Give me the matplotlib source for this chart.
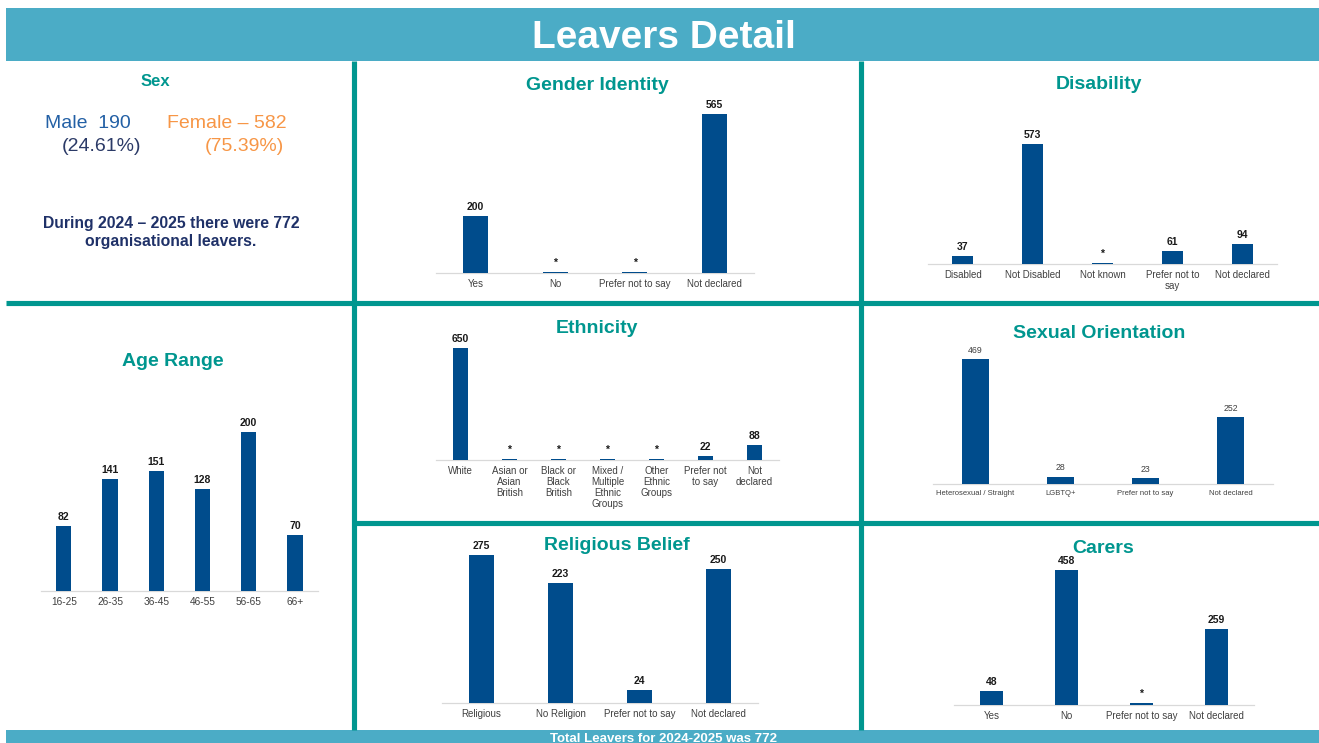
"""Leavers detail dashboard: one page of small bar charts, redrawn in matplotlib."""

import matplotlib
matplotlib.use("Agg")

import matplotlib.pyplot as plt
from matplotlib.patches import Rectangle

W, H = 1319, 743

plt.rcParams["font.family"] = ["Liberation Sans", "DejaVu Sans"]

HEADER_COLOUR = "#4BACC6"
TEAL = "#00968F"
BAR_COLOUR = "#004C8C"
MALE_COLOUR = "#2360A5"
MALE_PCT_COLOUR = "#2B3A67"
FEMALE_COLOUR = "#F79646"
NAVY = "#1F3168"
TICK_COLOUR = "#404040"
AXIS_COLOUR = "#D9D9D9"

# ── Data ────────────────────────────────────────────────────────────────
male_count = 190
female_count = 582
total_leavers = 772
period = "2024 \u2013 2025"

age_cats = ["16-25", "26-35", "36-45", "46-55", "56-65", "66+"]
age_vals = [82, 141, 151, 128, 200, 70]
age_labels = ["82", "141", "151", "128", "200", "70"]

gender_cats = ["Yes", "No", "Prefer not to say", "Not declared"]
gender_vals = [200, 4, 4, 565]          # suppressed values shown as *
gender_labels = ["200", "*", "*", "565"]

disability_cats = ["Disabled", "Not Disabled", "Not known", "Prefer not to\nsay", "Not declared"]
disability_vals = [37, 573, 6, 61, 94]
disability_labels = ["37", "573", "*", "61", "94"]

ethnicity_cats = ["White", "Asian or\nAsian\nBritish", "Black or\nBlack\nBritish",
                  "Mixed /\nMultiple\nEthnic\nGroups", "Other\nEthnic\nGroups",
                  "Prefer not\nto say", "Not\ndeclared"]
ethnicity_vals = [650, 8, 8, 8, 8, 22, 88]
ethnicity_labels = ["650", "*", "*", "*", "*", "22", "88"]

orientation_cats = ["Heterosexual / Straight", "LGBTQ+", "Prefer not to say", "Not declared"]
orientation_vals = [469, 28, 23, 252]
orientation_labels = ["469", "28", "23", "252"]

religion_cats = ["Religious", "No Religion", "Prefer not to say", "Not declared"]
religion_vals = [275, 223, 24, 250]
religion_labels = ["275", "223", "24", "250"]

carers_cats = ["Yes", "No", "Prefer not to say", "Not declared"]
carers_vals = [48, 458, 8, 259]
carers_labels = ["48", "458", "*", "259"]


fig = plt.figure(figsize=(W / 100, H / 100), dpi=100)
fig.patch.set_facecolor("white")

# background axes in pixel coordinates for bars, dividers and free text
bg = fig.add_axes([0, 0, 1, 1])
bg.set_xlim(0, W)
bg.set_ylim(H, 0)
bg.axis("off")

bg.add_patch(Rectangle((6, 8), W - 6, 53, color=HEADER_COLOUR, lw=0))
bg.add_patch(Rectangle((6, 730), W - 6, 14, color=HEADER_COLOUR, lw=0))

div_kw = dict(color=TEAL, lw=3.7, solid_capstyle="butt")
bg.plot([6, W], [302.5, 302.5], **div_kw)
bg.plot([354, W], [522.5, 522.5], **div_kw)
bg.plot([354, 354], [61, 730], **div_kw)
bg.plot([861, 861], [61, 730], **div_kw)

bg.text(664, 47.7, "Leavers Detail", color="white", fontsize=28,
        fontweight="bold", ha="center", va="baseline")
bg.text(664, 741.5, f"Total Leavers for 2024-2025 was {total_leavers}", color="white",
        fontsize=9.5, fontweight="bold", ha="center", va="baseline")

# ── Sex panel (text only) ───────────────────────────────────────────────
bg.text(155, 86.5, "Sex", color=TEAL, fontsize=12, fontweight="bold",
        ha="center", va="baseline")
male_pct = male_count / total_leavers * 100
female_pct = female_count / total_leavers * 100
bg.text(45, 128, f"Male  {male_count}", color=MALE_COLOUR, fontsize=14, va="baseline")
bg.text(62, 151, f"({male_pct:.2f}%)", color=MALE_PCT_COLOUR, fontsize=14, va="baseline")
bg.text(167, 128, f"Female \u2013 {female_count}", color=FEMALE_COLOUR, fontsize=14,
        va="baseline")
bg.text(205, 151, f"({female_pct:.2f}%)", color=FEMALE_COLOUR, fontsize=14, va="baseline")
bg.text(171, 228, f"During {period} there were {total_leavers}", color=NAVY,
        fontsize=11.3, fontweight="bold", ha="center", va="baseline")
bg.text(171, 246, "organisational leavers.", color=NAVY, fontsize=11.3,
        fontweight="bold", ha="center", va="baseline")

# ── Section titles ──────────────────────────────────────────────────────
titles = [
    ("Gender Identity", 597, 90),
    ("Disability", 1099, 89),
    ("Age Range", 173, 366.5),
    ("Ethnicity", 597, 333),
    ("Sexual Orientation", 1099, 338),
    ("Religious Belief", 617, 550.5),
    ("Carers", 1103, 553),
]
for text, x, y in titles:
    bg.text(x, y, text, color=TEAL, fontsize=14, fontweight="bold",
            ha="center", va="baseline")


def bar_panel(cats, vals, labels, x0, x1, base, scale, ymax, width,
              label_size=7.5, label_weight="bold", label_colour="#1A1A1A",
              tick_size=7, pad=3):
    """Draw one bar chart whose baseline sits at pixel row `base`."""
    top = base - scale * ymax
    ax = fig.add_axes([x0 / W, 1 - base / H, (x1 - x0) / W, (base - top) / H])
    ax.patch.set_visible(False)
    x = range(len(cats))
    bars = ax.bar(x, vals, width=width, color=BAR_COLOUR, linewidth=0)
    ax.bar_label(bars, labels=labels, padding=pad, fontsize=label_size,
                 fontweight=label_weight, color=label_colour)
    ax.set_xlim(-0.5, len(cats) - 0.5)
    ax.set_ylim(0, ymax)
    ax.set_xticks(list(x))
    ax.set_xticklabels(cats, fontsize=tick_size, color=TICK_COLOUR, linespacing=1.1,
                       va="top")
    ax.tick_params(axis="x", length=0, pad=4.5)
    ax.set_yticks([])
    for side in ("top", "left", "right"):
        ax.spines[side].set_visible(False)
    ax.spines["bottom"].set_color(AXIS_COLOUR)
    ax.spines["bottom"].set_linewidth(0.9)
    ax.spines["bottom"].set_zorder(0.5)
    return ax


bar_panel(age_cats, age_vals, age_labels, 40.7, 318, 591, 0.795, 250, 0.33,
          tick_size=7.3)
bar_panel(gender_cats, gender_vals, gender_labels, 436, 754, 272.7, 0.281, 600, 0.32)
bar_panel(disability_cats, disability_vals, disability_labels, 928, 1277, 264, 0.209,
          650, 0.30)
bar_panel(ethnicity_cats, ethnicity_vals, ethnicity_labels, 436, 779, 460, 0.172, 700,
          0.31)
bar_panel(orientation_cats, orientation_vals, orientation_labels, 933, 1273, 484, 0.2665,
          500, 0.32, label_size=6.3, label_weight="normal", label_colour=TICK_COLOUR,
          tick_size=5.5)
bar_panel(religion_cats, religion_vals, religion_labels, 442, 758, 702.7, 0.536, 300, 0.31)
bar_panel(carers_cats, carers_vals, carers_labels, 954, 1254, 705, 0.294, 500, 0.31)

fig.savefig("out.png", dpi=100, facecolor="white")
